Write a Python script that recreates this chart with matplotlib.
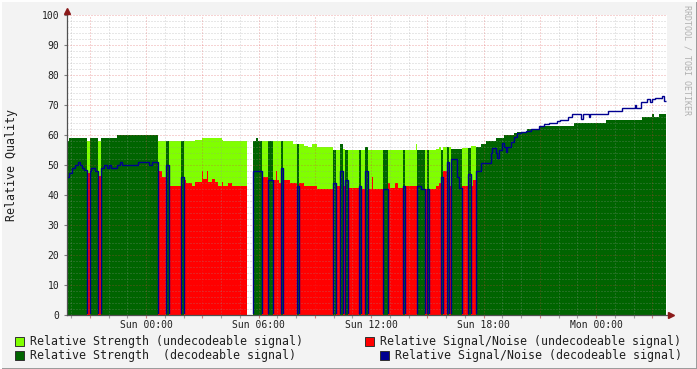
import matplotlib
matplotlib.use("Agg")
import matplotlib.pyplot as plt
import numpy as np
from matplotlib.patches import Rectangle

# ---------------- data (minutes relative to Sun 00:00) ----------------
seg_start = [-253, -246, -237, -227, -218, -210, -205, -198, -189, -179,
             -176, -162, -155, -144, -134, -125, -118, -112, -93, -83,
             -77, -26, 10, 19,
             38, 50, 64, 72, 77, 112, 122, 128, 147, 157,
             178, 182, 194, 198, 210, 221, 230, 242, 246, 262,
             274, 323,
             341, 352, 358, 370, 391, 407, 416, 419, 426, 432,
             438, 461, 471, 482, 488, 506, 518, 531, 546, 598,
             608, 621, 629, 637, 645, 680, 688,
             702, 709, 723, 726, 757, 773, 779, 797, 805, 821,
             827, 864, 866, 880, 891, 898, 905, 928, 936, 944,
             950, 962, 970, 976, 994, 1002, 1010, 1031, 1039, 1047,
             1055, 1071, 1082, 1087, 1103, 1108, 1119, 1122, 1130, 1140,
             1146, 1151, 1156, 1167, 1178, 1188, 1199, 1215, 1218, 1231,
             1258, 1261, 1274, 1290, 1315, 1323, 1350, 1363, 1368, 1393,
             1397, 1417, 1422, 1472, 1478, 1523, 1565, 1568, 1585, 1587,
             1603, 1614, 1619, 1625, 1630, 1641, 1651, 1657]
data_end = 1664

# 1 = decodeable, 0 = undecodeable, -1 = no data
decoded = [1, 1, 1, 1, 1, 1, 1, 1, 0, 1,
           1, 1, 0, 1, 1, 1, 1, 1, 1, 1,
           1, 1, 1, 1,
           0, 0, 1, 0, 0, 1, 0, 0, 0, 0,
           0, 0, 0, 0, 0, 0, 0, 0, 0, 0,
           0, -1,
           1, 1, 1, 0, 1, 0, 0, 0, 0, 1,
           0, 0, 0, 1, 0, 0, 0, 0, 0, 1,
           0, 1, 0, 1, 0, 1, 0,
           1, 0, 0, 0, 1, 0, 0, 0, 0, 1,
           0, 0, 1, 1, 0, 1, 0, 0, 0, 1,
           0, 1, 0, 1, 1, 1, 0, 1, 0, 0,
           1, 1, 1, 1, 1, 1, 1, 1, 1, 1,
           1, 1, 1, 1, 1, 1, 1, 1, 1, 1,
           1, 1, 1, 1, 1, 1, 1, 1, 1, 1,
           1, 1, 1, 1, 1, 1, 1, 1, 1, 1,
           1, 1, 1, 1, 1, 1, 1, 1]

strength = [58, 59, 59, 59, 59, 59, 59, 59, 58, 59,
            59, 59, 58, 59, 59, 59, 59, 59, 60, 60,
            60, 60, 60, 60,
            58, 58, 58, 58, 58, 58, 58, 58, 58, 58.5,
            59, 59, 59, 59, 59, 59, 59, 58.5, 58, 58,
            58, 0,
            58, 59, 58, 58, 58, 58, 58, 58, 58, 58,
            58, 58, 57, 57, 57, 56.5, 56, 57, 56, 55,
            55, 57, 55.5, 55, 55, 55, 55,
            56, 55, 55, 55, 55, 55, 55, 55, 55, 55,
            55, 57, 55, 55, 55, 55, 55, 55.5, 56, 55,
            56, 56, 56, 55.5, 55.5, 55.5, 55.8, 55.8, 56.5, 56.5,
            56, 57, 57, 58, 58, 58, 59, 59, 59, 59,
            60, 60, 60, 60, 60.8, 61, 61, 61, 62, 62,
            62, 63, 63, 63, 63, 63, 63, 63, 64, 64,
            64, 64, 64, 65, 65, 65, 65, 65, 65, 66,
            66, 66, 67, 66, 66, 67, 67, 67]

snr = [46, 47.5, 49, 50, 51, 50, 49, 48.5, 47.5, 48,
       49, 48, 46.5, 49, 50, 49, 50, 49, 50, 51,
       50, 51, 50, 51,
       48, 46, 50, 46, 43, 46, 45, 44, 43, 44.5,
       48, 45.5, 48, 44.5, 45.5, 44.5, 43, 44.5, 43, 44,
       43, 0,
       48, 48, 48, 46, 45, 45, 48, 45, 44, 49,
       45, 44, 44, 43, 44, 43, 43, 43, 42, 44,
       43, 48, 43, 45, 42.5, 43, 42,
       48, 42, 46, 42, 42, 44, 42.5, 44, 42.5, 43,
       43, 43, 43, 42, 42, 42, 42, 43, 44, 46,
       48, 51, 43, 52, 46, 42.5, 43, 47, 43, 45,
       48, 50.6, 50.8, 50.8, 54, 55.6, 54, 52.2, 55, 57.2,
       56, 54.4, 56, 57.8, 59.4, 60.6, 61.1, 61.4, 61.4, 61.9,
       63, 63, 63.7, 63.9, 64.8, 65, 65.9, 67, 67, 65.5,
       67, 66, 67, 67, 68, 68.9, 70, 68.9, 70.9, 70.9,
       71.9, 71.1, 71.9, 71.9, 72.2, 72.2, 73, 71.3]

x_tick_pos = [0, 360, 720, 1080, 1440]
x_tick_labels = ["Sun 00:00", "Sun 06:00", "Sun 12:00", "Sun 18:00", "Mon 00:00"]
x_min, x_max = -253, 1667

legend_labels = ["Relative Strength (undecodeable signal)",
                 "Relative Strength  (decodeable signal)",
                 "Relative Signal/Noise (undecodeable signal)",
                 "Relative Signal/Noise (decodeable signal)"]

# ---------------- colours ----------------
C_LGREEN = "#80FF00"
C_DGREEN = "#006400"
C_RED = "#FF0000"
C_BLUE = "#000090"
BACK = "#F3F3F3"
MONO = "DejaVu Sans Mono"

dec = np.array(decoded)
st = np.array(strength, dtype=float)
sn = np.array(snr, dtype=float)
edges = np.array(seg_start + [data_end], dtype=float)

st_dec = np.where(dec == 1, st, 0.0)
st_und = np.where(dec == 0, st, 0.0)
sn_und = np.where(dec == 0, sn, 0.0)
sn_dec = np.where(dec == 1, sn, 0.0)

W, H = 697, 369
fig = plt.figure(figsize=(W / 100, H / 100), dpi=100, facecolor=BACK)
L, R, T, B = 67, 667, 15, 315
ax = fig.add_axes([L / W, 1 - B / H, (R - L) / W, (B - T) / H])
ax.set_facecolor("white")
ax.set_xlim(x_min, x_max)
ax.set_ylim(0, 100)

ax.stairs(st_und, edges, fill=True, color=C_LGREEN, baseline=0, lw=0, antialiased=False, zorder=1)
ax.stairs(st_dec, edges, fill=True, color=C_DGREEN, baseline=0, lw=0, antialiased=False, zorder=1.1)
ax.stairs(sn_und, edges, fill=True, color=C_RED, baseline=0, lw=0, antialiased=False, zorder=1.2)
blue = ax.stairs(sn_dec, edges, fill=False, color=C_BLUE, baseline=None, lw=1.0, zorder=4)
clip = Rectangle((x_min, 0.45), x_max - x_min, 101, transform=ax.transData)
blue.set_clip_path(clip)

# grid
minor_c = (0.6, 0.6, 0.6, 0.45)
major_c = (0.85, 0.25, 0.25, 0.45)
for m in range(-240, x_max, 60):
    if m % 180 == 0:
        continue
    ax.axvline(m, color=minor_c, lw=0.72, ls=(0, (1, 2)), zorder=3)
for m in range(-180, x_max, 180):
    ax.axvline(m, color=major_c, lw=0.72, ls=(0, (1, 2)), zorder=3)
for v in range(2, 101, 2):
    if v % 10 == 0:
        ax.axhline(v, color=major_c, lw=0.72, ls=(0, (1, 2)), zorder=3)
    else:
        ax.axhline(v, color=minor_c, lw=0.72, ls=(0, (1, 2)), zorder=3)

for s in ["top", "right"]:
    ax.spines[s].set_visible(False)
for s in ["left", "bottom"]:
    ax.spines[s].set_color("#505050")
    ax.spines[s].set_linewidth(0.9)
    ax.spines[s].set_zorder(5)

major_x = list(range(-180, x_max, 180))
ax.set_xticks(major_x)
ax.set_xticklabels([x_tick_labels[x_tick_pos.index(m)] if m in x_tick_pos else "" for m in major_x],
                   fontfamily=MONO, fontsize=7, color="#202020")
ax.set_xticks([m for m in range(-240, x_max, 60) if m % 180 != 0], minor=True)
ax.set_yticks(range(0, 101, 10))
ax.set_yticklabels([str(v) for v in range(0, 101, 10)], fontfamily=MONO, fontsize=7, color="#202020")
ax.tick_params(axis="x", which="major", length=2.5, width=0.8, pad=1.0, color="#D08080")
ax.tick_params(axis="x", which="minor", length=2, width=0.8, color="#A0A0A0")
ax.tick_params(axis="y", which="major", length=2, width=0.8, pad=3.5, color="#808080")

# arrows
ax.plot([1.0 + 4 / 600], [0], marker=">", ms=4, color="#8B1A1A", transform=ax.transAxes, clip_on=False, zorder=6)
ax.plot([0], [1.0 + 4 / 300], marker="^", ms=4, color="#8B1A1A", transform=ax.transAxes, clip_on=False, zorder=6)

fig.text(12 / W, 1 - 165 / H, "Relative Quality", rotation=90, ha="center", va="center",
         fontfamily=MONO, fontsize=8.4, color="#202020")
fig.text(687 / W, 1 - 5 / H, "RRDTOOL / TOBI OETIKER", rotation=270, ha="center", va="top",
         fontfamily=MONO, fontsize=6, color="#B0B0B0")

# legend
leg = [(15, 341, C_LGREEN, legend_labels[0]),
       (15, 355, C_DGREEN, legend_labels[1]),
       (365, 341, C_RED, legend_labels[2]),
       (380, 355, C_BLUE, legend_labels[3])]
for x, y, c, lab in leg:
    fig.patches.append(Rectangle((x / W, 1 - (y + 4.5) / H), 9 / W, 9 / H, transform=fig.transFigure,
                                 facecolor=c, edgecolor="#303030", lw=0.7))
    fig.text((x + 15) / W, 1 - y / H, lab, ha="left", va="center", fontfamily=MONO,
             fontsize=8.4, color="#202020")

# 3D frame
fig.add_artist(plt.Line2D([0, 1], [0.5 / H, 0.5 / H], transform=fig.transFigure, color="#9A9A9A", lw=1.4))
fig.add_artist(plt.Line2D([1 - 0.5 / W, 1 - 0.5 / W], [0, 1], transform=fig.transFigure, color="#9A9A9A", lw=1.4))
fig.add_artist(plt.Line2D([0, 1], [1 - 0.5 / H, 1 - 0.5 / H], transform=fig.transFigure, color="#FFFFFF", lw=1.4))
fig.add_artist(plt.Line2D([0.5 / W, 0.5 / W], [0, 1], transform=fig.transFigure, color="#FFFFFF", lw=1.4))

fig.savefig("out.png", dpi=100, facecolor=BACK)
